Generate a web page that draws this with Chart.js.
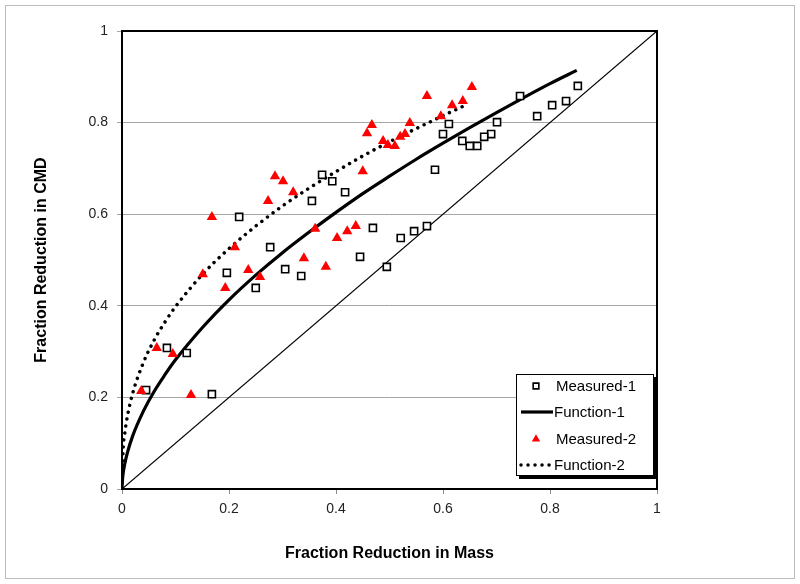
<!DOCTYPE html>
<html>
<head>
<meta charset="utf-8">
<script src="https://cdn.jsdelivr.net/npm/chart.js@4"></script>
<style>
	body { margin: 0; background: #fff; }
	canvas { display: block; }
</style>
</head>
<body>
<canvas id="CanvasReduction" width="800" height="584"></canvas>
<script>
// Measured-1 (open squares)
var measured1X = [0.045, 0.168, 0.084, 0.121, 0.196, 0.219, 0.277, 0.250, 0.305, 0.335, 0.374, 0.393, 0.417, 0.355, 0.585, 0.469, 0.521, 0.546, 0.570, 0.445, 0.495, 0.852, 0.830, 0.804, 0.776, 0.744, 0.701, 0.690, 0.677, 0.664, 0.650, 0.636, 0.611, 0.600];
var measured1Y = [0.216, 0.207, 0.308, 0.297, 0.472, 0.594, 0.528, 0.439, 0.480, 0.465, 0.686, 0.672, 0.648, 0.629, 0.697, 0.570, 0.548, 0.563, 0.574, 0.507, 0.485, 0.880, 0.847, 0.838, 0.814, 0.858, 0.801, 0.775, 0.769, 0.749, 0.749, 0.760, 0.797, 0.775];

// Measured-2 (red triangles)
var measured2X = [0.036, 0.129, 0.065, 0.095, 0.151, 0.193, 0.168, 0.211, 0.236, 0.258, 0.273, 0.286, 0.301, 0.320, 0.340, 0.361, 0.381, 0.402, 0.421, 0.437, 0.450, 0.458, 0.467, 0.488, 0.497, 0.510, 0.520, 0.529, 0.538, 0.570, 0.596, 0.617, 0.637, 0.654];
var measured2Y = [0.214, 0.205, 0.308, 0.295, 0.469, 0.439, 0.594, 0.528, 0.478, 0.463, 0.629, 0.683, 0.672, 0.648, 0.504, 0.568, 0.485, 0.548, 0.563, 0.574, 0.694, 0.777, 0.795, 0.760, 0.751, 0.749, 0.769, 0.775, 0.799, 0.858, 0.814, 0.838, 0.847, 0.878];

// Function-1 (solid curve)
var function1X = [0, 0.001, 0.002, 0.005, 0.01, 0.02, 0.04, 0.06, 0.08, 0.1, 0.15, 0.2, 0.25, 0.3, 0.35, 0.4, 0.45, 0.5, 0.55, 0.6, 0.65, 0.7, 0.75, 0.8, 0.85];
var function1Y = [0, 0.022, 0.033, 0.054, 0.079, 0.116, 0.170, 0.213, 0.249, 0.282, 0.352, 0.413, 0.467, 0.516, 0.561, 0.604, 0.645, 0.683, 0.720, 0.755, 0.789, 0.822, 0.854, 0.885, 0.914];

// Function-2 (dotted curve)
var function2X = [0, 0.002, 0.005, 0.01, 0.02, 0.04, 0.06, 0.08, 0.1, 0.15, 0.2, 0.25, 0.3, 0.35, 0.4, 0.45, 0.5, 0.55, 0.6, 0.64];
var function2Y = [0, 0.083, 0.120, 0.158, 0.209, 0.276, 0.325, 0.364, 0.398, 0.468, 0.525, 0.574, 0.618, 0.657, 0.693, 0.727, 0.758, 0.787, 0.815, 0.837];

// 1:1 reference line
var diagonalX = [0, 1];
var diagonalY = [0, 1];

var xTicks = [0, 0.2, 0.4, 0.6, 0.8, 1];
var yTicks = [0, 0.2, 0.4, 0.6, 0.8, 1];
var xTickLabels = ['0', '0.2', '0.4', '0.6', '0.8', '1'];
var yTickLabels = ['0', '0.2', '0.4', '0.6', '0.8', '1'];

var legendNames = ['Measured-1', 'Function-1', 'Measured-2', 'Function-2'];

function ToPoints(xs, ys) {
	var points = [];
	for (var i = 0; i < xs.length; i++) {
		points.push({ x: xs[i], y: ys[i] });
	}
	return points;
}

// gray frame round the whole picture, drawn first
var framePlugin = {
	id: 'framePlugin',
	beforeDraw: function (chart) {
		var ctx = chart.ctx;
		ctx.save();
		ctx.fillStyle = '#ffffff';
		ctx.fillRect(0, 0, chart.width, chart.height);
		ctx.strokeStyle = '#bdbdbd';
		ctx.lineWidth = 1;
		ctx.strokeRect(5.5, 5.5, chart.width - 11, chart.height - 11);
		ctx.restore();
	},
	afterDraw: function (chart) {
		var ctx = chart.ctx;
		var a = chart.chartArea;
		ctx.save();
		// plot box
		ctx.strokeStyle = '#000';
		ctx.lineWidth = 2;
		ctx.strokeRect(a.left, a.top, a.right - a.left, a.bottom - a.top);

		// legend box with shadow
		var lx = 516, ly = 374, lw = 138, lh = 102;
		ctx.fillStyle = '#000';
		ctx.fillRect(lx + 3, ly + lh, lw, 3);
		ctx.fillRect(lx + lw, ly + 3, 3, lh);
		ctx.fillStyle = '#fff';
		ctx.fillRect(lx, ly, lw, lh);
		ctx.strokeStyle = '#000';
		ctx.lineWidth = 1;
		ctx.strokeRect(lx + 0.5, ly + 0.5, lw - 1, lh - 1);

		var rows = [386, 412, 439, 465];
		var sets = chart.data.datasets;
		ctx.font = '15px Arial, "Liberation Sans", sans-serif';
		ctx.textBaseline = 'middle';
		ctx.textAlign = 'left';
		for (var i = 0; i < legendNames.length; i++) {
			var ds = sets[i];
			var y = rows[i];
			if (ds.showLine) {
				ctx.save();
				ctx.strokeStyle = ds.borderColor;
				ctx.lineWidth = ds.borderWidth;
				ctx.lineCap = ds.borderCapStyle || 'butt';
				ctx.setLineDash(ds.borderDash || []);
				ctx.beginPath();
				ctx.moveTo(521, y);
				ctx.lineTo(553, y);
				ctx.stroke();
				ctx.restore();
				ctx.fillStyle = '#000';
				ctx.fillText(legendNames[i], 554, y + 1);
			} else {
				ctx.save();
				ctx.fillStyle = ds.pointBackgroundColor;
				ctx.strokeStyle = ds.pointBorderColor;
				ctx.lineWidth = ds.pointBorderWidth;
				Chart.helpers.drawPoint(ctx, { pointStyle: ds.pointStyle, radius: ds.pointRadius * 0.8, borderWidth: ds.pointBorderWidth, rotation: 0 }, 536, y);
				ctx.restore();
				ctx.fillStyle = '#000';
				ctx.fillText(legendNames[i], 556, y + 1);
			}
		}
		ctx.restore();
	}
};

var context = document.getElementById('CanvasReduction');
var myChart = new Chart(context, {
	type: 'scatter',
	data: {
		datasets: [
			{
				label: legendNames[0],
				data: ToPoints(measured1X, measured1Y),
				pointStyle: 'rect',
				pointRadius: 5,
				pointBackgroundColor: '#ffffff',
				pointBorderColor: '#000000',
				pointBorderWidth: 1.6,
				showLine: false,
				order: 2
			},
			{
				label: legendNames[1],
				data: ToPoints(function1X, function1Y),
				showLine: true,
				borderColor: '#000000',
				borderWidth: 3.2,
				pointRadius: 0,
				cubicInterpolationMode: 'monotone',
				order: 3
			},
			{
				label: legendNames[2],
				data: ToPoints(measured2X, measured2Y),
				pointStyle: 'triangle',
				pointRadius: 6,
				pointBackgroundColor: '#ff0000',
				pointBorderColor: '#ff0000',
				pointBorderWidth: 0,
				showLine: false,
				order: 1
			},
			{
				label: legendNames[3],
				data: ToPoints(function2X, function2Y),
				showLine: true,
				borderColor: '#000000',
				borderWidth: 3.5,
				borderDash: [0.01, 7],
				borderCapStyle: 'round',
				pointRadius: 0,
				cubicInterpolationMode: 'monotone',
				order: 3
			},
			{
				label: '1:1',
				data: ToPoints(diagonalX, diagonalY),
				showLine: true,
				borderColor: '#000000',
				borderWidth: 1.2,
				pointRadius: 0,
				order: 4
			}
		]
	},
	options: {
		responsive: false,
		animation: false,
		layout: {
			padding: { left: 0, top: 31, right: 143, bottom: 0 }
		},
		plugins: {
			legend: { display: false },
			tooltip: { enabled: false }
		},
		scales: {
			x: {
				type: 'linear',
				min: 0,
				max: 1,
				afterBuildTicks: function (scale) {
					scale.ticks = xTicks.map(function (v) { return { value: v }; });
				},
				afterFit: function (scale) { scale.height = 95; },
				grid: { drawOnChartArea: false, drawTicks: true, tickLength: 5, color: '#8c8c8c' },
				border: { display: false },
				ticks: {
					padding: 7,
					color: '#222',
					font: { family: 'Arial, "Liberation Sans", sans-serif', size: 14 },
					maxRotation: 0,
					callback: function (value, index) { return xTickLabels[index]; }
				},
				title: {
					display: true,
					text: 'Fraction Reduction in Mass',
					color: '#000',
					font: { family: 'Arial, "Liberation Sans", sans-serif', size: 16, weight: 'bold' },
					padding: { top: 0, bottom: 21 }
				}
			},
			y: {
				type: 'linear',
				min: 0,
				max: 1,
				afterBuildTicks: function (scale) {
					scale.ticks = yTicks.map(function (v) { return { value: v }; });
				},
				afterFit: function (scale) { scale.width = 122; },
				grid: { drawOnChartArea: true, drawTicks: true, tickLength: 5, color: '#a6a6a6' },
				border: { display: false },
				ticks: {
					padding: 9,
					color: '#222',
					font: { family: 'Arial, "Liberation Sans", sans-serif', size: 14 },
					callback: function (value, index) { return yTickLabels[index]; }
				},
				title: {
					display: true,
					text: 'Fraction Reduction in CMD',
					color: '#000',
					font: { family: 'Arial, "Liberation Sans", sans-serif', size: 16, weight: 'bold' },
					padding: { top: 32, bottom: 0 }
				}
			}
		}
	},
	plugins: [framePlugin]
});
</script>
</body>
</html>
